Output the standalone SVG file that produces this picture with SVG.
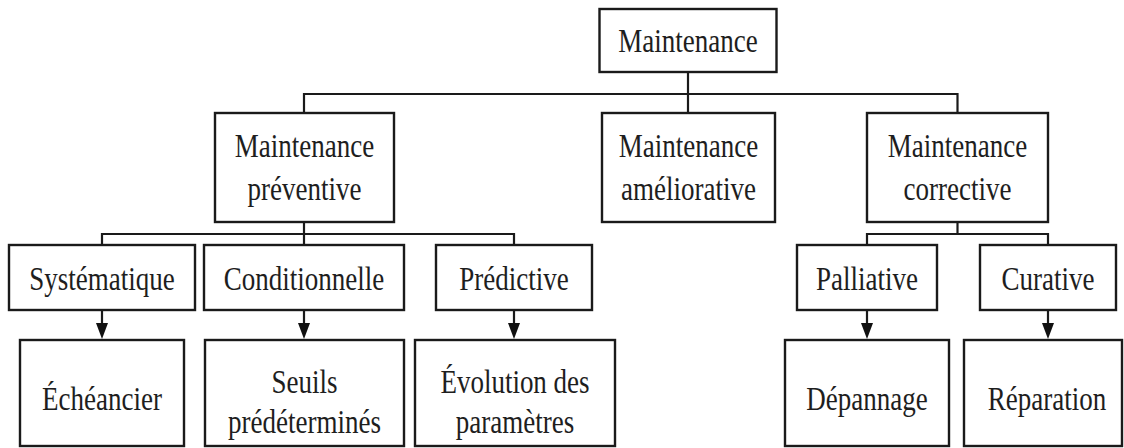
<svg xmlns="http://www.w3.org/2000/svg" width="1124" height="448" viewBox="0 0 1124 448">
<style>
rect.box{fill:#fff;stroke:#1a1a1a;stroke-width:2.4}
.conn line,.conn polyline,.conn path.ln{stroke:#1a1a1a;stroke-width:2.2;fill:none}
text{font-family:"Liberation Serif","DejaVu Serif",serif;font-size:27px;fill:#1e1e1e;text-anchor:middle}
</style>
<rect width="1124" height="448" fill="#fff"/>
<g class="conn" id="connectors">
<line x1="688" y1="72" x2="688" y2="94"/>
<polyline points="304,113 304,94 957.5,94 957.5,113"/>
<line x1="688" y1="94" x2="688" y2="113"/>
<line x1="304" y1="222" x2="304" y2="234"/>
<polyline points="102,245 102,234 514,234 514,245"/>
<line x1="304" y1="234" x2="304" y2="245"/>
<line x1="957.5" y1="222" x2="957.5" y2="234"/>
<polyline points="867,245 867,234 1048,234 1048,245"/>
<path class="ln" d="M102,310 V330 M304,310 V330 M514,310 V330 M867,310 V330 M1048,310 V330"/>
<path d="M96,323 H108 L102,339 Z M298,323 H310 L304,339 Z M508,323 H520 L514,339 Z M861,323 H873 L867,339 Z M1042,323 H1054 L1048,339 Z" fill="#111"/>
</g>
<g id="n-root">
<rect class="box" x="599.5" y="9" width="177" height="63"/>
<text transform="translate(688,52) scale(1,1.28)">Maintenance</text>
</g>
<g id="n-preventive">
<rect class="box" x="215" y="113" width="179" height="109"/>
<text transform="translate(304.5,157) scale(1,1.28)">Maintenance</text>
<text transform="translate(304.5,200) scale(1,1.28)">préventive</text>
</g>
<g id="n-meliorative">
<rect class="box" x="602" y="113" width="173" height="109"/>
<text transform="translate(688.5,157) scale(1,1.28)">Maintenance</text>
<text transform="translate(688.5,200) scale(1,1.28)">améliorative</text>
</g>
<g id="n-corrective">
<rect class="box" x="867" y="113" width="181" height="109"/>
<text transform="translate(957.5,157) scale(1,1.28)">Maintenance</text>
<text transform="translate(957.5,200) scale(1,1.28)">corrective</text>
</g>
<g id="n-systematique">
<rect class="box" x="9" y="245" width="186" height="65"/>
<text transform="translate(102,290) scale(1,1.28)">Systématique</text>
</g>
<g id="n-conditionnelle">
<rect class="box" x="204" y="245" width="200" height="65"/>
<text transform="translate(304,290) scale(1,1.28)">Conditionnelle</text>
</g>
<g id="n-predictive">
<rect class="box" x="436" y="245" width="156" height="65"/>
<text transform="translate(514,290) scale(1,1.28)">Prédictive</text>
</g>
<g id="n-palliative">
<rect class="box" x="797" y="245" width="140" height="65"/>
<text transform="translate(867,290) scale(1,1.28)">Palliative</text>
</g>
<g id="n-curative">
<rect class="box" x="980" y="245" width="136" height="65"/>
<text transform="translate(1048,290) scale(1,1.28)">Curative</text>
</g>
<g id="n-echeancier">
<rect class="box" x="20" y="340" width="164" height="106"/>
<text transform="translate(102,410) scale(1,1.28)">Échéancier</text>
</g>
<g id="n-seuils">
<rect class="box" x="205" y="340" width="199" height="106"/>
<text transform="translate(304.5,393) scale(1,1.28)">Seuils</text>
<text transform="translate(304.5,433) scale(1,1.28)">prédéterminés</text>
</g>
<g id="n-evolution">
<rect class="box" x="415" y="340" width="200" height="106"/>
<text transform="translate(515,393) scale(1,1.28)">Évolution des</text>
<text transform="translate(515,433) scale(1,1.28)">paramètres</text>
</g>
<g id="n-depannage">
<rect class="box" x="785" y="340" width="164" height="106"/>
<text transform="translate(867,410) scale(1,1.28)">Dépannage</text>
</g>
<g id="n-reparation">
<rect class="box" x="964" y="340" width="158" height="106"/>
<text transform="translate(1047,410) scale(1,1.28)">Réparation</text>
</g>
</svg>
